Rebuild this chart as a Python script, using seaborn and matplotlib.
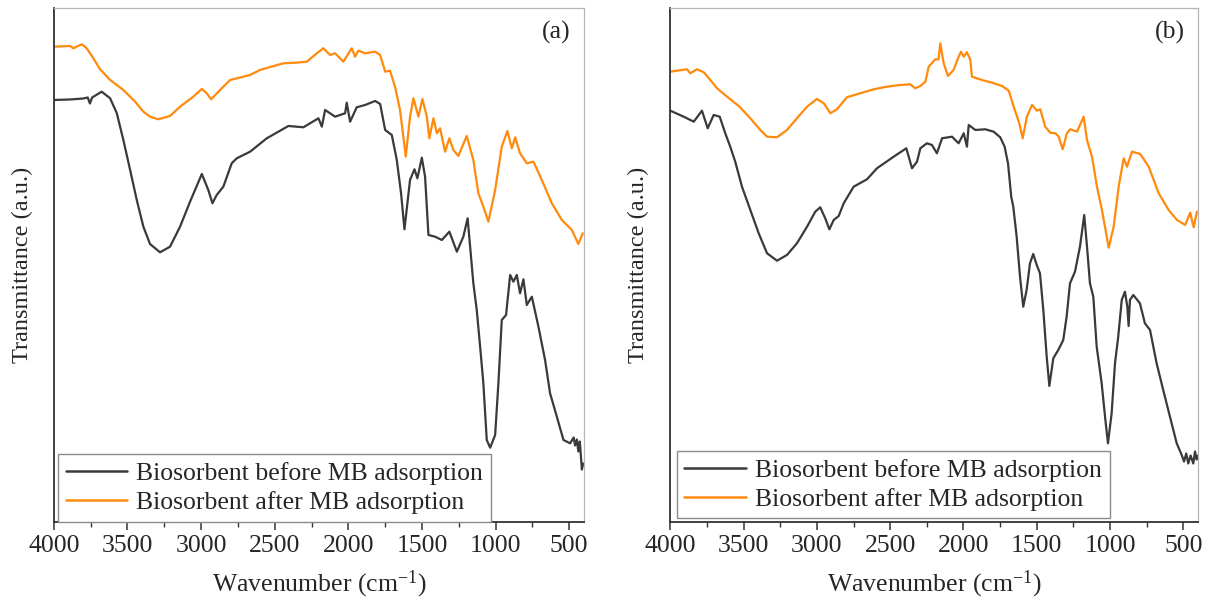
import numpy as np
import pandas as pd
import matplotlib
matplotlib.use("Agg")
import matplotlib.pyplot as plt
from matplotlib.ticker import MultipleLocator
import seaborn as sns

# ---------------- data ----------------
series_names = ["Biosorbent before MB adsorption", "Biosorbent after MB adsorption"]
panel_labels = ["(a)", "(b)"]
xtick_values = [4000, 3500, 3000, 2500, 2000, 1500, 1000, 500]

# Panel (a) - before
a_before_wn = [4000, 3890, 3800, 3770, 3755, 3740, 3675, 3618, 3573, 3528, 3482, 3437, 3392, 3347,
               3279, 3211, 3143, 3075, 2995, 2951, 2923, 2894, 2849, 2792, 2758, 2667, 2554, 2407,
               2305, 2203, 2180, 2158, 2090, 2022, 2011, 1988, 1943, 1886, 1818, 1784, 1750, 1705,
               1671, 1642, 1619, 1581, 1551, 1531, 1501, 1479, 1456, 1411, 1365, 1314, 1263, 1219,
               1190, 1151, 1128, 1105, 1083, 1060, 1037, 1003, 981, 958, 929, 901, 879, 856, 834,
               811, 788, 754, 709, 664, 630, 584, 539, 494, 470, 460, 448, 438, 428, 420, 414, 405]
a_before_t = [421.5, 422, 423, 424, 418, 424, 429.8, 423.2, 408.5, 381.5, 351.5, 321.5, 294.8, 277.5,
              269.2, 274.8, 294.8, 319.8, 347.5, 331.5, 318.2, 326.5, 334.8, 358.2, 363.2, 369.8, 383.2, 395.5,
              394.2, 403.2, 394.8, 411.5, 404.8, 408.2, 418.8, 399.8, 414.2, 416.5, 420.5, 417.5, 391.5, 386.5,
              361.5, 328.2, 292.2, 341.5, 352.2, 343.2, 363.8, 344.8, 286.5, 284.8, 281.5, 289.8, 269.8, 284.8,
              303.2, 238.2, 211.5, 174.8, 138.2, 81.5, 73.8, 86.5, 138.2, 201.5, 206.5, 246.5, 239.8, 246.5, 228.2,
              242.2, 216.5, 224.8, 194.8, 161.5, 128.2, 104.8, 81.5, 78.2, 84, 76, 82, 70, 80, 64, 52, 58]

# Panel (a) - after
a_after_wn = [4000, 3890, 3868, 3810, 3777, 3732, 3686, 3618, 3528, 3448, 3392, 3347, 3290, 3211,
              3143, 3053, 2995, 2962, 2932, 2871, 2803, 2667, 2600, 2441, 2350, 2282, 2214, 2170,
              2124, 2090, 2034, 1977, 1954, 1932, 1886, 1818, 1784, 1750, 1717, 1683, 1649, 1610,
              1581, 1558, 1524, 1497, 1467, 1450, 1422, 1399, 1377, 1343, 1314, 1287, 1253, 1196,
              1151, 1117, 1083, 1049, 1003, 958, 920, 890, 867, 834, 788, 743, 686, 618, 550, 482,
              438, 420, 408]
a_after_t = [474.8, 475.5, 473.2, 477.2, 473.2, 463.2, 452.2, 441.5, 431.5, 419.8, 409.8, 404.8, 402.2, 405.5,
             414.8, 424.8, 432.5, 428.2, 422.2, 431.5, 441.5, 446.5, 451.5, 458.2, 458.8, 459.8, 468.2, 473.2,
             466.5, 468.2, 459.8, 473.2, 464.8, 470.8, 468.2, 469.8, 466.5, 449.8, 450.8, 434.8, 411.5, 364.8,
             404.8, 423.2, 404.8, 422.5, 404.8, 383.2, 403.2, 388.2, 393.2, 369.8, 383.2, 371.5, 365.5, 385.5,
             361.5, 328.2, 314.8, 299.8, 331.5, 374.8, 390.5, 373.2, 384.2, 368.2, 358.2, 359.8, 341.5, 318.2,
             301.5, 291.5, 277.5, 284, 288.2]

# Panel (b) - before
b_before_wn = [4000, 3909, 3840, 3784, 3745, 3704, 3663, 3625, 3591, 3557, 3511, 3454, 3397, 3340,
               3272, 3204, 3136, 3067, 3011, 2977, 2943, 2915, 2885, 2851, 2817, 2749, 2658, 2590,
               2476, 2390, 2367, 2351, 2317, 2294, 2249, 2215, 2181, 2146, 2078, 2033, 1998, 1976,
               1964, 1919, 1851, 1794, 1749, 1719, 1696, 1674, 1660, 1637, 1614, 1592, 1569, 1546,
               1524, 1500, 1478, 1455, 1432, 1414, 1387, 1353, 1319, 1296, 1273, 1239, 1205, 1176,
               1155, 1137, 1114, 1091, 1057, 1034, 1014, 989, 966, 944, 920, 898, 882, 873, 864, 841,
               796, 762, 727, 682, 637, 591, 545, 511, 495, 480, 466, 450, 432, 420, 409, 400]
b_before_t = [410.8, 404.8, 399.8, 410.8, 393.2, 406.5, 404.8, 388.2, 374.8, 359.8, 334.8, 311.5, 288.2, 268.2,
              260.8, 266.5, 278.2, 294.8, 309.8, 314.2, 303.2, 292.2, 301.5, 305.5, 318.2, 334.8, 342.2, 353.2,
              364.8, 373.2, 361.5, 353.2, 359.8, 373.2, 378.2, 376.5, 368.2, 383.2, 384.8, 378.2, 388.2, 374.8,
              396.5, 391.5, 392.2, 389.8, 384.2, 374.8, 358.2, 324.8, 314.8, 284.8, 244.8, 214.8, 231.5, 258.2,
              267.5, 256.5, 248.2, 211.5, 164.8, 135.5, 163.2, 171.5, 181.5, 204.8, 238.2, 249.8, 274.8, 306.5,
              271.5, 238.2, 224.8, 174.8, 138.2, 104.8, 78.2, 108.2, 158.2, 184.8, 221.5, 229.8, 214.8, 195.5, 221.5, 226.5,
              218.2, 198.2, 191.5, 158.2, 131.5, 104.8, 78.2, 66.5, 60, 68, 58, 66, 58, 70, 62, 66]

# Panel (b) - after
b_after_wn = [4000, 3886, 3864, 3818, 3772, 3727, 3681, 3613, 3533, 3454, 3386, 3340, 3272, 3204,
              3136, 3067, 2999, 2953, 2908, 2863, 2795, 2704, 2612, 2522, 2431, 2363, 2329, 2294,
              2260, 2237, 2192, 2170, 2158, 2135, 2106, 2067, 2037, 2017, 1998, 1976, 1953, 1942,
              1874, 1805, 1737, 1691, 1657, 1619, 1596, 1567, 1532, 1498, 1476, 1442, 1408, 1373,
              1350, 1323, 1294, 1271, 1225, 1180, 1157, 1123, 1089, 1055, 1009, 975, 941, 907, 884,
              850, 794, 736, 668, 600, 543, 487, 453, 429, 407]
b_after_t = [449.8, 452.2, 448.2, 452.2, 449.2, 441.5, 433.2, 424.8, 415.5, 403.2, 391.5, 384.8, 384.2, 391.5,
             403.2, 414.8, 422.5, 418.2, 408.2, 412.2, 424.2, 428.2, 432.2, 434.8, 436.5, 437.2, 433.2, 435.5,
             439.8, 454.8, 462.2, 462.2, 478.2, 458.2, 445.5, 451.5, 463.2, 469.8, 464.8, 469.2, 461.5, 444.8,
             441.5, 438.8, 435.5, 430.8, 414.8, 398.2, 383.2, 404.8, 416.5, 410.8, 412.2, 394.8, 388.8, 388.2,
             384.8, 372.2, 388.2, 392.2, 389.8, 404.8, 381.5, 364.8, 334.8, 311.5, 273.8, 294.8, 334.8, 363.2, 354.8,
             369.8, 367.5, 354.8, 328.2, 311.5, 301.5, 296.5, 308.8, 294.2, 309.8]

# ---------------- style ----------------
sns.set_style("ticks")
plt.rcParams["font.family"] = ["Liberation Serif", "DejaVu Serif"]
plt.rcParams["mathtext.fontset"] = "custom"
plt.rcParams["mathtext.rm"] = "Liberation Serif"
plt.rcParams["mathtext.default"] = "regular"

palette = {series_names[0]: "#3a3a3a", series_names[1]: "#ff8a0d"}
FS = 18.5


def make_df(wn_b, t_b, wn_a, t_a):
    d1 = pd.DataFrame({"Wavenumber": wn_b, "T": t_b, "Sample": series_names[0]})
    d2 = pd.DataFrame({"Wavenumber": wn_a, "T": t_a, "Sample": series_names[1]})
    return pd.concat([d1, d2], ignore_index=True)


panels = [
    make_df(a_before_wn, a_before_t, a_after_wn, a_after_t),
    make_df(b_before_wn, b_before_t, b_after_wn, b_after_t),
]

fig = plt.figure(figsize=(12.13, 6.05), dpi=100)
axes = [fig.add_axes([0.0444, 0.138, 0.437, 0.848]),
        fig.add_axes([0.5526, 0.138, 0.435, 0.848])]
legend_anchor = [(0.008, 0.0), (0.012, 0.006)]

for ax, df, lab, anc in zip(axes, panels, panel_labels, legend_anchor):
    sns.lineplot(data=df, x="Wavenumber", y="T", hue="Sample", palette=palette,
                 hue_order=series_names, estimator=None, sort=True, linewidth=1.6, ax=ax)
    ax.set_xlim(4000, 400)
    ax.set_ylim(0, 513)
    ax.set_xticks(xtick_values)
    ax.xaxis.set_minor_locator(MultipleLocator(250))
    ax.set_yticks([])
    ax.tick_params(axis="x", which="major", direction="out", length=6, width=1.1,
                   color="#333333", labelsize=FS, pad=4)
    ax.tick_params(axis="x", which="minor", direction="out", length=3.5, width=1.0, color="#333333")
    for side in ["left", "bottom"]:
        ax.spines[side].set_color("#333333")
        ax.spines[side].set_linewidth(1.3)
    for side in ["top", "right"]:
        ax.spines[side].set_color("#b5b5b5")
        ax.spines[side].set_linewidth(0.9)
    ax.set_xlabel("Wavenumber (cm$^{-1}$)", fontsize=FS, labelpad=8)
    ax.set_ylabel("Transmittance (a.u.)", fontsize=17.5, labelpad=15)
    ax.text(0.975, 0.975, lab, transform=ax.transAxes, ha="right", va="top", fontsize=FS)
    leg = ax.legend(loc="lower left", bbox_to_anchor=anc, borderaxespad=0, fontsize=FS,
                    frameon=True, fancybox=False, edgecolor="#8a8a8a", framealpha=1,
                    handlelength=2.4, handletextpad=0.35, labelspacing=0.22,
                    borderpad=0.3, title=None)
    leg.get_frame().set_linewidth(1.0)
    for h in leg.get_lines():
        h.set_linewidth(1.8)

fig.savefig("out.png", dpi=100)
